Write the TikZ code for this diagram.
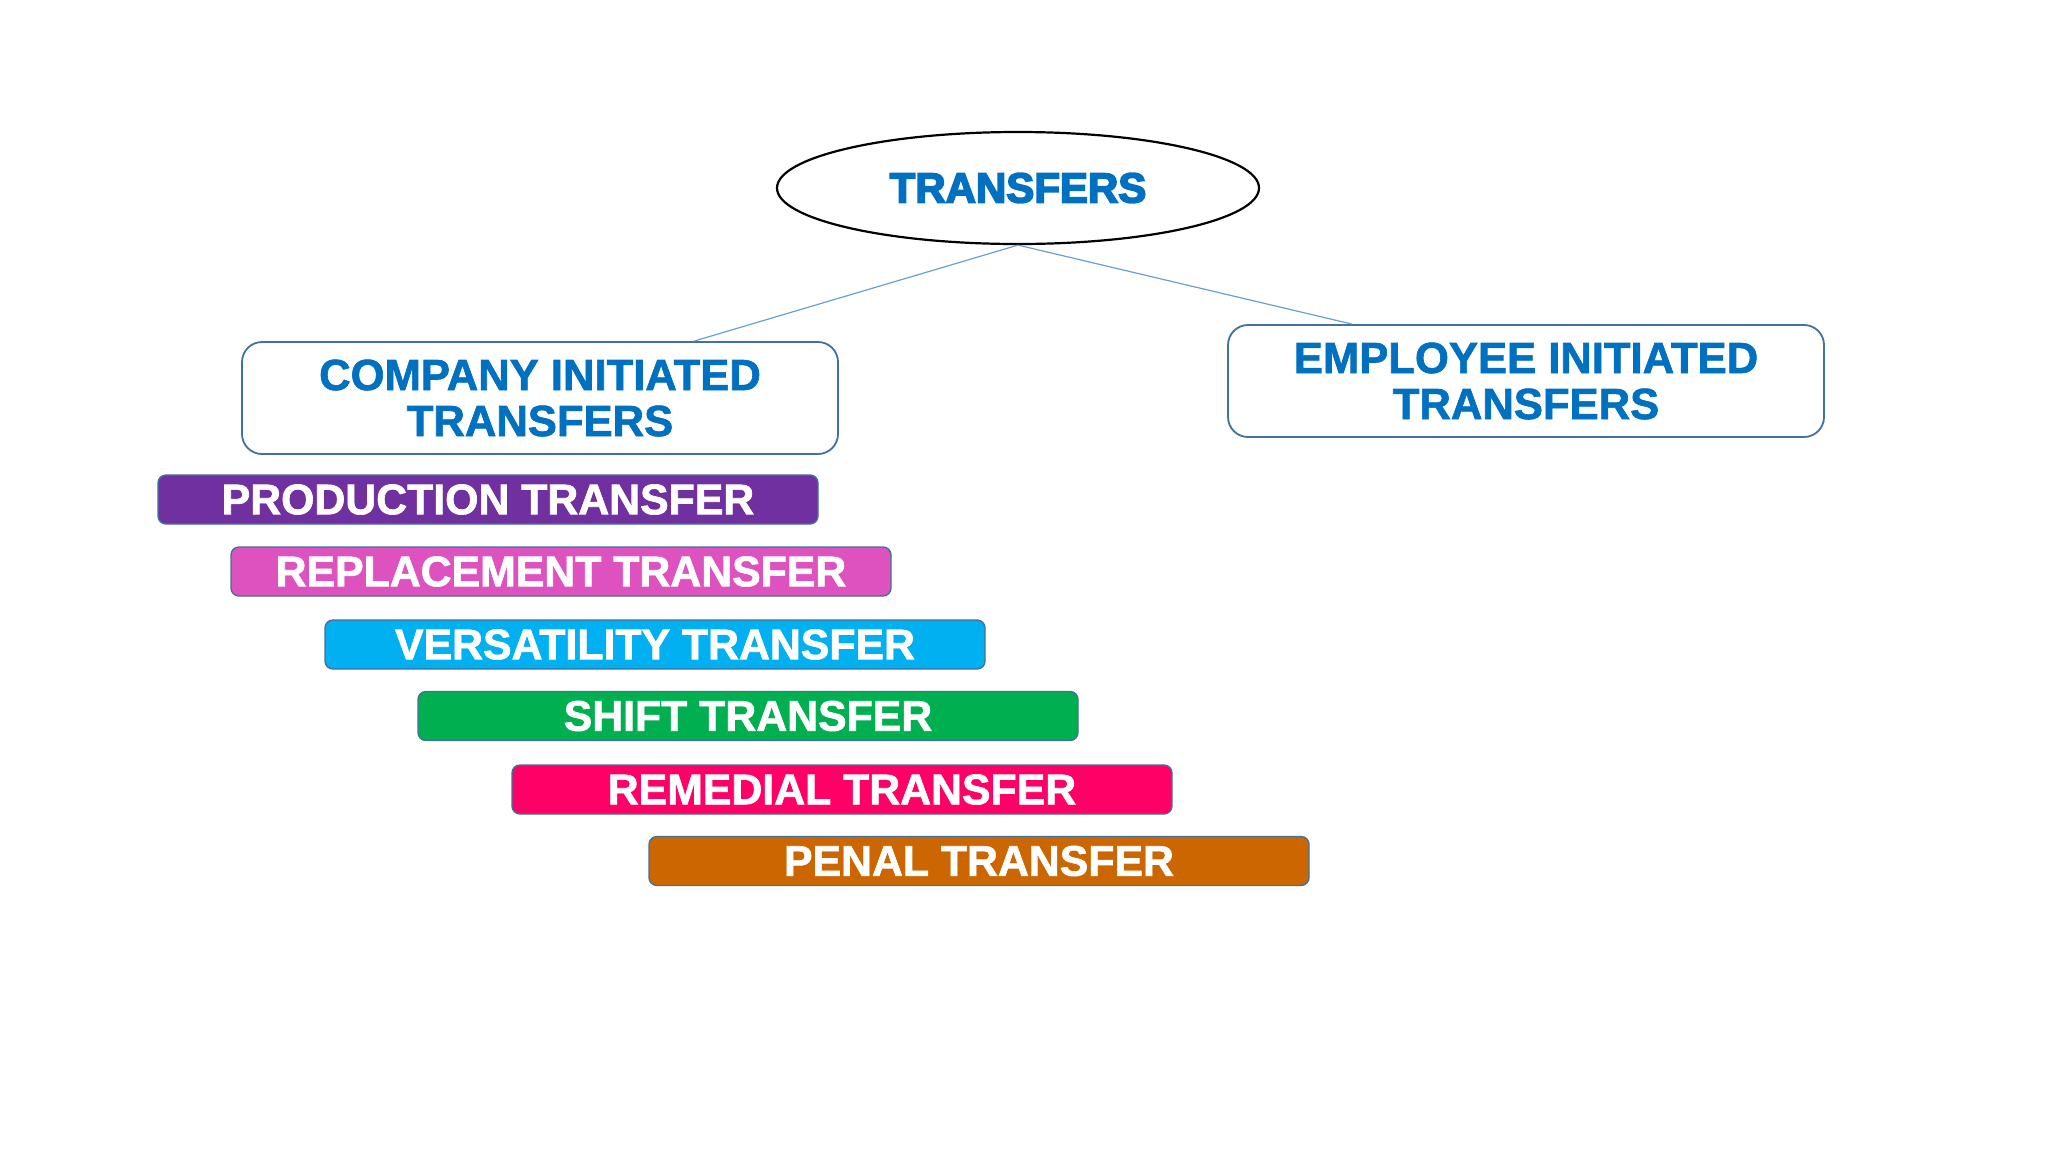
\documentclass[tikz,border=0pt]{standalone}
\usepackage{fontspec}
\setmainfont{Liberation Sans}[BoldFeatures={FakeBold=1.5}]
\newfontfamily\blackfont[BoldFeatures={FakeBold=4}]{Liberation Sans}
\usetikzlibrary{shapes.geometric}
\definecolor{titleblue}{HTML}{0070C0}
\definecolor{edgeblue}{HTML}{41719C}
\definecolor{linkblue}{HTML}{6A9FD2}
\definecolor{cprod}{HTML}{7030A0}
\definecolor{crepl}{HTML}{DD52BE}
\definecolor{cvers}{HTML}{00B0F0}
\definecolor{cshift}{HTML}{00B050}
\definecolor{crem}{HTML}{FF0066}
\definecolor{cpenal}{HTML}{CC6600}
\tikzset{
  bigbox/.style={draw=edgeblue, line width=0.9pt, rounded corners=10pt, fill=white,
    minimum width=298pt, minimum height=56pt, inner sep=0pt, align=center,
    text=titleblue, font=\fontsize{21.8pt}{23pt}\selectfont\bfseries},
  bar/.style={draw=edgeblue, line width=0.7pt, rounded corners=4pt,
    minimum width=330pt, minimum height=24.5pt, inner sep=0pt,
    text=white, font=\fontsize{21.4pt}{23pt}\selectfont\bfseries},
  link/.style={draw=linkblue, line width=0.6pt}
}
\begin{document}
\begin{tikzpicture}[x=0.5pt,y=-0.5pt]
\useasboundingbox[fill=white] (0,0) rectangle (2048,1152);
\node[ellipse, draw=black, line width=1.1pt, minimum width=241pt, minimum height=56pt,
  inner sep=0pt, text=titleblue, font=\blackfont\fontsize{21pt}{23pt}\selectfont\bfseries]
  (title) at (1018,188) {TRANSFERS};
\node[bigbox] (comp) at (540,398) {COMPANY INITIATED\\TRANSFERS};
\node[bigbox] (emp) at (1526,381) {EMPLOYEE INITIATED\\TRANSFERS};
\draw[link] (title.south) -- ([xshift=77pt]comp.north);
\draw[link] (title.south) -- ([xshift=-87pt]emp.north);
\node[bar, fill=cprod] (prod) at (488,499.5) {PRODUCTION TRANSFER};
\node[bar, fill=crepl] (repl) at (561,571.5) {REPLACEMENT TRANSFER};
\node[bar, fill=cvers] (vers) at (655,644.5) {VERSATILITY TRANSFER};
\node[bar, fill=cshift] (shift) at (748,716) {SHIFT TRANSFER};
\node[bar, fill=crem] (rem) at (842,789.5) {REMEDIAL TRANSFER};
\node[bar, fill=cpenal] (penal) at (979,861) {PENAL TRANSFER};
\end{tikzpicture}
\end{document}
